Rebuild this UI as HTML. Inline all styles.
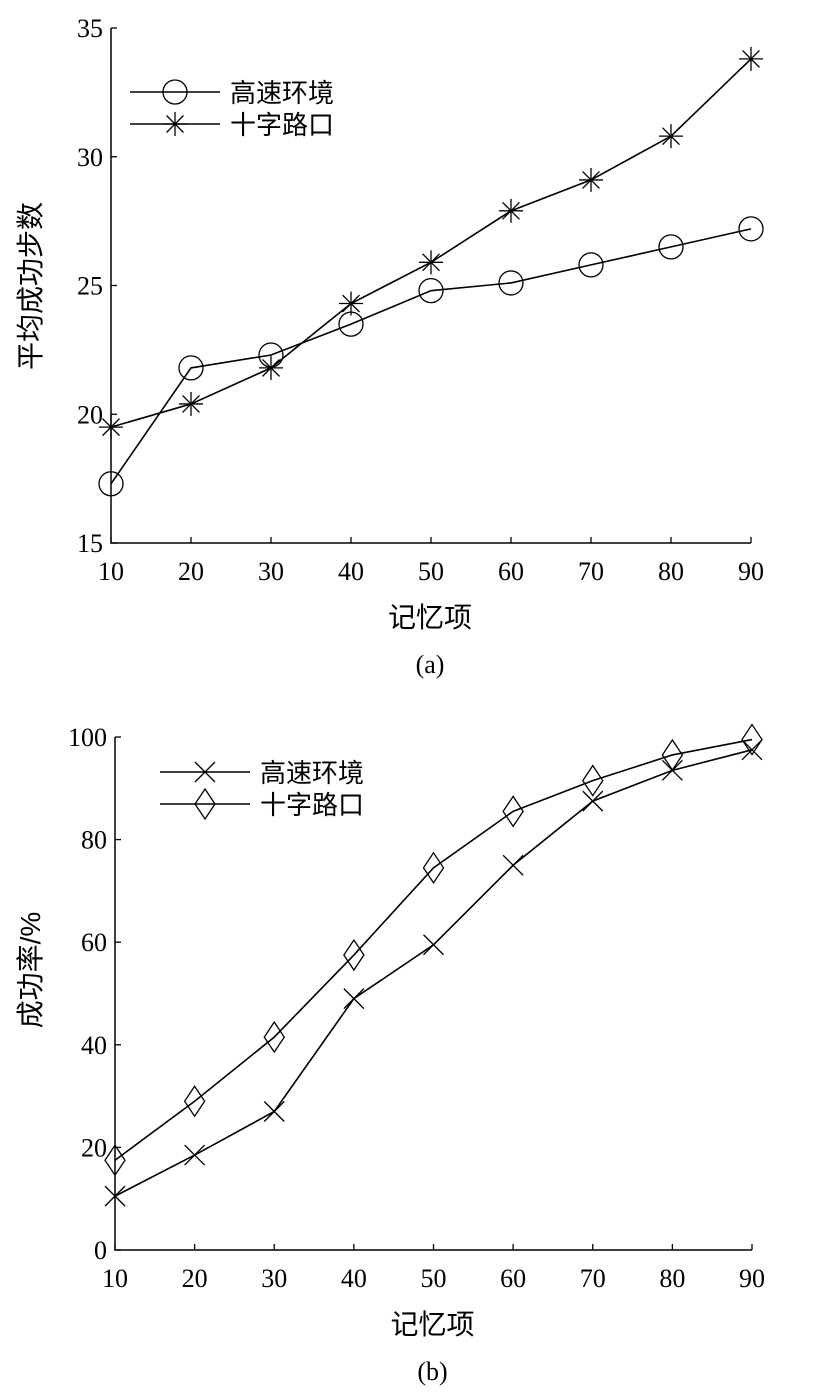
<!DOCTYPE html>
<html><head><meta charset="utf-8"><style>
body{margin:0;background:#fff;width:827px;height:1393px;overflow:hidden}
svg{display:block}
text{font-family:"Liberation Serif","Noto Serif CJK SC",serif;fill:#000}
.cj{font-family:"Liberation Sans","Noto Sans CJK SC",sans-serif}
</style></head><body>
<svg id="s" width="827" height="1393"></svg>
<script>
const xCats=[10,20,30,40,50,60,70,80,90];
const aHighway=[17.3,21.8,22.3,23.5,24.8,25.1,25.8,26.5,27.2];
const aCross=[19.5,20.4,21.8,24.3,25.9,27.9,29.1,30.8,33.8];
const aTicks=[15,20,25,30,35];
const bHighway=[10.5,18.5,27,49,59.5,75,87.5,93.5,97.5];
const bCross=[17.5,29,41.5,57.5,74.5,85.5,91.5,96.5,99.5];
const bTicks=[0,20,40,60,80,100];
const NS="http://www.w3.org/2000/svg";
const svg=document.getElementById('s');
function el(t,a,p){const e=document.createElementNS(NS,t);for(const k in a)e.setAttribute(k,a[k]);(p||svg).appendChild(e);return e;}
function txt(s,a,p){const e=el('text',a,p);e.textContent=s;return e;}
function marker(type,x,y,g){
  const st={stroke:'#000','stroke-width':1.3,fill:'none'};
  if(type==='o'){el('circle',Object.assign({cx:x,cy:y,r:12},st),g);}
  else if(type==='*'){const r=12;for(const a of [0,45,90,135]){const t=a*Math.PI/180;el('line',Object.assign({x1:x-r*Math.cos(t),y1:y-r*Math.sin(t),x2:x+r*Math.cos(t),y2:y+r*Math.sin(t)},st),g);}}
  else if(type==='x'){const r=10;el('line',Object.assign({x1:x-r,y1:y-r,x2:x+r,y2:y+r},st),g);el('line',Object.assign({x1:x-r,y1:y+r,x2:x+r,y2:y-r},st),g);}
  else if(type==='d'){el('polygon',Object.assign({points:`${x},${y-15} ${x+10},${y} ${x},${y+15} ${x-10},${y}`},st),g);}
}
function chart(cfg){
  const g=el('g',{});
  
  
  const X=v=>cfg.x0+(v-xCats[0])/(xCats[xCats.length-1]-xCats[0])*(cfg.x1-cfg.x0);
  const Y=v=>cfg.y0-(v-cfg.ymin)/(cfg.ymax-cfg.ymin)*(cfg.y0-cfg.y1);
  const ax=el('path',{d:`M${cfg.x0},${cfg.y1}V${cfg.y0}H${cfg.x1}`,stroke:'#000','stroke-width':1.5,fill:'none'},g);
  
  xCats.forEach(v=>{el('line',{x1:X(v),x2:X(v),y1:cfg.y0,y2:cfg.y0-6,stroke:'#000','stroke-width':1.3},g);
    const t=txt(v,{x:X(v),y:cfg.y0+37,'text-anchor':'middle','font-size':26},g);
    });
  cfg.ticks.forEach(v=>{el('line',{x1:cfg.x0,x2:cfg.x0+6,y1:Y(v),y2:Y(v),stroke:'#000','stroke-width':1.3},g);
    const t=txt(v,{x:cfg.x0-8,y:Y(v)+9,'text-anchor':'end','font-size':26},g);
    });
  cfg.series.forEach(s=>{
    const sg=el('g',{},g);
    
    el('polyline',{points:s.data.map((v,i)=>X(xCats[i])+','+Y(v)).join(' '),fill:'none',stroke:'#000','stroke-width':1.6},sg);
    s.data.forEach((v,i)=>marker(s.m,X(xCats[i]),Y(v),sg));
    const lg=el('g',{},g);
    
    el('line',{x1:s.lx,x2:s.lx+90,y1:s.ly,y2:s.ly,stroke:'#000','stroke-width':1.6},lg);
    marker(s.m,s.lx+45,s.ly,lg);
    txt(s.label,{x:s.lx+100,y:s.ly+10,'font-size':26,class:'cj'},lg);
  });
  const xt=txt('记忆项',{x:(cfg.x0+cfg.x1)/2-1,y:cfg.y0+84,'text-anchor':'middle','font-size':28,class:'cj'},g);
  
  const yt=txt(cfg.ytitle,{x:0,y:0,'text-anchor':'middle','font-size':28,class:'cj',transform:`translate(${cfg.ytx},${cfg.yty}) rotate(-90)`},g);
  
  const cap=txt(cfg.cap,{x:(cfg.x0+cfg.x1)/2-1,y:cfg.y0+130,'text-anchor':'middle','font-size':26},g);
  
}
chart({name:'chart-a',x0:111,x1:751,y0:543,y1:28,ymin:15,ymax:35,ticks:aTicks,ytitle:'平均成功步数',ytx:40,yty:286,cap:'(a)',
 series:[{name:'series-highway',data:aHighway,m:'o',label:'高速环境',lx:130,ly:92},
         {name:'series-crossroad',data:aCross,m:'*',label:'十字路口',lx:130,ly:124}]});
chart({name:'chart-b',x0:115,x1:752,y0:1250,y1:737,ymin:0,ymax:100,ticks:bTicks,ytitle:'成功率/%',ytx:40,yty:970,cap:'(b)',
 series:[{name:'series-highway',data:bHighway,m:'x',label:'高速环境',lx:160,ly:772},
         {name:'series-crossroad',data:bCross,m:'d',label:'十字路口',lx:160,ly:804}]});
</script>
</body></html>
